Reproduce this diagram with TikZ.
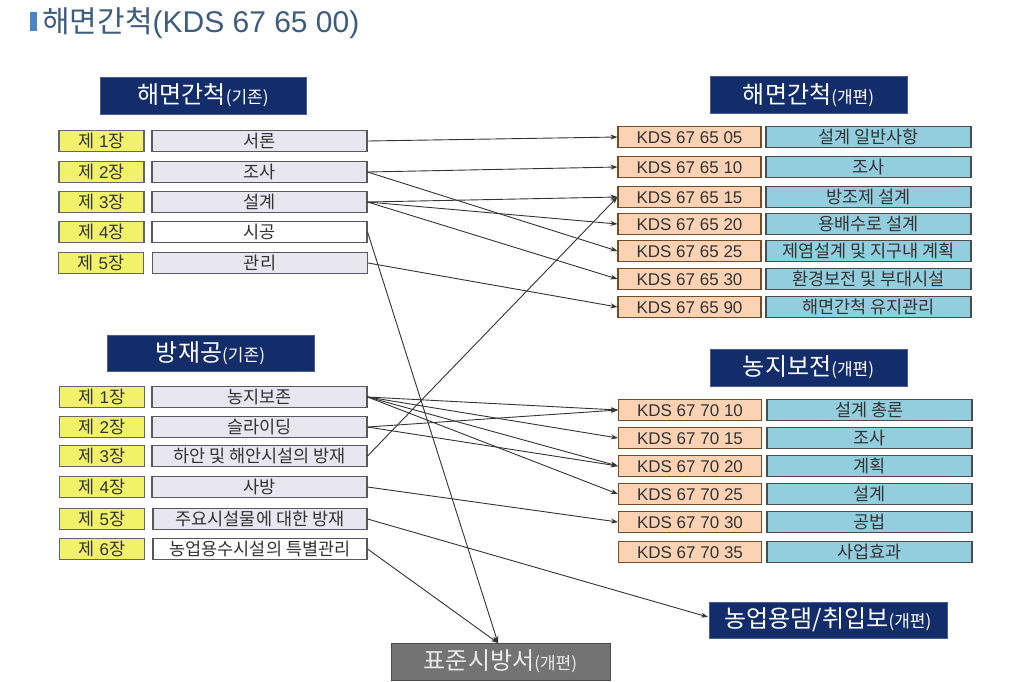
\documentclass[tikz,border=0pt]{standalone}
\usepackage{fontspec}
\setmainfont{Noto Sans CJK KR}
\newfontfamily\lat{Liberation Sans}
\usetikzlibrary{arrows.meta}
\definecolor{ylw}{HTML}{F2F26A}
\definecolor{lav}{HTML}{E7E6F1}
\definecolor{peach}{HTML}{FBD3B4}
\definecolor{skyb}{HTML}{93CEDF}
\definecolor{navy}{HTML}{132D6B}
\definecolor{navyedge}{HTML}{4A5F90}
\definecolor{titlec}{HTML}{3E5C7C}
\definecolor{barc}{HTML}{4A86C5}
\definecolor{linec}{HTML}{333333}
\tikzset{
  boxbase/.style={draw=#1, line width=1.1pt, minimum height=21, inner sep=0pt,
    text height=13.5pt, text depth=1.5pt,
    font=\fontsize{17.5}{17.5}\selectfont, text=black!80},
  chap/.style={boxbase=black!60, fill=ylw, minimum width=85},
  lbl/.style={boxbase=black!65, fill=lav, minimum width=215},
  lblw/.style={boxbase=black!65, fill=white, minimum width=215},
  kds/.style={boxbase=brown!60!black, fill=peach, minimum width=143, font=\lat\fontsize{17}{17}\selectfont},
  ttl/.style={boxbase=black!70, fill=skyb, minimum width=205},
  hdr/.style={draw=navyedge, line width=1pt, fill=navy, text=white, inner sep=0pt,
    font=\fontsize{24}{24}\selectfont},
  gryhdr/.style={draw=black!70, line width=1pt, fill=black!55, text=white!92!black, inner sep=0pt,
    font=\fontsize{24}{24}\selectfont},
  arr/.style={draw=linec, line width=0.9pt, -{Stealth[length=7pt,width=5pt]}},
}
\newcommand{\smallpar}[1]{{\fontsize{17}{17}\selectfont(#1)}}
\newcommand{\ch}[1]{제{\lat\fontsize{17}{17}\selectfont\ #1}장}
\begin{document}
\begin{tikzpicture}[x=1pt,y=-1pt]
\useasboundingbox[fill=white] (0,0) rectangle (1009,681);
% title
\fill[barc] (30,12) rectangle (37,31);
\node[anchor=base west, text=titlec, inner sep=0pt, font=\fontsize{30}{30}\selectfont] (title) at (42,32) {해면간척{\lat(KDS 67 65 00)}};

% headers
\node[hdr, minimum width=206, minimum height=37] (h1) at (203,95.5) {해면간척\smallpar{기존}};
\node[hdr, minimum width=197, minimum height=37] (h2) at (808.5,95) {해면간척\smallpar{개편}};
\node[hdr, minimum width=207, minimum height=36] (h3) at (210.5,353) {방재공\smallpar{기존}};
\node[hdr, minimum width=197, minimum height=37] (h4) at (808.5,367.5) {농지보전\smallpar{개편}};
\node[hdr, minimum width=238, minimum height=36] (h5) at (828,620) {농업용댐/취입보\smallpar{개편}};
\node[gryhdr, minimum width=219, minimum height=37] (h6) at (500.5,661.5) {표준시방서\smallpar{개편}};

% top-left
\node[chap] (c1) at (101.5,141) {\ch{1}};
\node[chap] (c2) at (101.5,172) {\ch{2}};
\node[chap] (c3) at (101.5,202) {\ch{3}};
\node[chap] (c4) at (101.5,232) {\ch{4}};
\node[chap] (c5) at (101,263) {\ch{5}};
\node[lbl]  (a1) at (259.5,141) {서론};
\node[lbl]  (a2) at (259.5,172) {조사};
\node[lbl]  (a3) at (259.5,202) {설계};
\node[lblw] (a4) at (259.5,232) {시공};
\node[lbl]  (a5) at (260,263) {관리};

% top-right
\node[kds] (k05) at (689.5,137) {KDS 67 65 05};
\node[kds] (k10) at (689.5,167) {KDS 67 65 10};
\node[kds] (k15) at (689.5,197) {KDS 67 65 15};
\node[kds] (k20) at (689.5,224) {KDS 67 65 20};
\node[kds] (k25) at (689.5,251) {KDS 67 65 25};
\node[kds] (k30) at (689.5,279) {KDS 67 65 30};
\node[kds] (k90) at (689.5,307) {KDS 67 65 90};
\node[ttl] (t05) at (868.5,137) {설계 일반사항};
\node[ttl] (t10) at (868.5,167) {조사};
\node[ttl] (t15) at (868.5,197) {방조제 설계};
\node[ttl] (t20) at (868.5,224) {용배수로 설계};
\node[ttl] (t25) at (868.5,251) {제염설계 및 지구내 계획};
\node[ttl] (t30) at (868.5,279) {환경보전 및 부대시설};
\node[ttl] (t90) at (868.5,307) {해면간척 유지관리};

% bottom-left
\node[chap] (d1) at (102,397) {\ch{1}};
\node[chap] (d2) at (102,427) {\ch{2}};
\node[chap] (d3) at (102,456) {\ch{3}};
\node[chap] (d4) at (102,487) {\ch{4}};
\node[chap] (d5) at (102,519) {\ch{5}};
\node[chap] (d6) at (102,549) {\ch{6}};
\node[lbl]  (b1) at (259.5,397) {농지보존};
\node[lbl]  (b2) at (259.5,427) {슬라이딩};
\node[lbl]  (b3) at (259.5,456) {하안 및 해안시설의 방재};
\node[lbl]  (b4) at (259.5,487) {사방};
\node[lbl, minimum width=214]  (b5) at (260,519) {주요시설물에 대한 방재};
\node[lblw, minimum width=214] (b6) at (260,549) {농업용수시설의 특별관리};

% bottom-right
\node[kds] (m10) at (690,410) {KDS 67 70 10};
\node[kds] (m15) at (690,438) {KDS 67 70 15};
\node[kds] (m20) at (690,466) {KDS 67 70 20};
\node[kds] (m25) at (690,494) {KDS 67 70 25};
\node[kds] (m30) at (690,522) {KDS 67 70 30};
\node[kds] (m35) at (690,552) {KDS 67 70 35};
\node[ttl] (u10) at (869.5,410) {설계 총론};
\node[ttl] (u15) at (869.5,438) {조사};
\node[ttl] (u20) at (869.5,466) {계획};
\node[ttl] (u25) at (869.5,494) {설계};
\node[ttl] (u30) at (869.5,522) {공법};
\node[ttl] (u35) at (869.5,552) {사업효과};

\coordinate (h6top) at (498,643);
\coordinate (h5in) at (708,617);

% connectors top
\draw[arr] (a1.east) -- (k05.west);
\draw[arr] (a2.east) -- (k10.west);
\draw[arr] (a2.east) -- (k25.west);
\draw[arr] (a3.east) -- (k15.west);
\draw[arr] (a3.east) -- (k20.west);
\draw[arr] (a3.east) -- (k30.west);
\draw[arr] (a4.east) -- (h6top);
\draw[arr] (a5.east) -- (k90.west);
% connectors bottom
\draw[arr] (b1.east) -- (m10.west);
\draw[arr] (b1.east) -- (m15.west);
\draw[arr] (b1.east) -- (m20.west);
\draw[arr] (b1.east) -- (m25.west);
\draw[arr] (b2.east) -- (m10.west);
\draw[arr] (b2.east) -- (m20.west);
\draw[arr] (b3.east) -- (k15.west);
\draw[arr] (b4.east) -- (m30.west);
\draw[arr] (b5.east) -- (h5in);
\draw[arr] (b6.east) -- (h6top);
\end{tikzpicture}
\end{document}
